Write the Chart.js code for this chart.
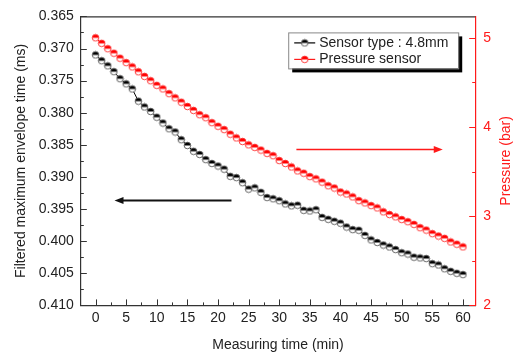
<!DOCTYPE html>
<html>
<head>
<meta charset="utf-8">
<script src="https://cdn.jsdelivr.net/npm/chart.js@4.4.1/dist/chart.umd.min.js"></script>
<style>
  html, body { margin: 0; padding: 0; background: #fff; }
  #wrap { width: 516px; height: 356px; }
</style>
</head>
<body>
<div id="wrap"><canvas id="chart" width="516" height="356"></canvas></div>
<script>
// measuring time (min)
const minutes = [
  0, 1, 2, 3, 4, 5, 6, 7, 8, 9, 10, 11, 12, 13, 14, 15, 16, 17, 18, 19, 20,
  21, 22, 23, 24, 25, 26, 27, 28, 29, 30, 31, 32, 33, 34, 35, 36, 37, 38, 39, 40,
  41, 42, 43, 44, 45, 46, 47, 48, 49, 50, 51, 52, 53, 54, 55, 56, 57, 58, 59, 60
];

// filtered max envelope time (ms), sensor 4.8mm
const envelopeTime = [
  0.3710, 0.3719, 0.3727, 0.3736, 0.3747, 0.3755, 0.3763, 0.3782, 0.3791, 0.3798, 0.3807,
  0.3816, 0.3825, 0.3830, 0.3842, 0.3851, 0.3860, 0.3865, 0.3873, 0.3879, 0.3883,
  0.3888, 0.3899, 0.3901, 0.3909, 0.3919, 0.3917, 0.3924, 0.3932, 0.3934, 0.3937,
  0.3942, 0.3945, 0.3944, 0.3952, 0.3953, 0.3951, 0.3963, 0.3966, 0.3969, 0.3972,
  0.3978, 0.3982, 0.3983, 0.3991, 0.3998, 0.4002, 0.4006, 0.4009, 0.4013, 0.4018,
  0.4020, 0.4025, 0.4026, 0.4027, 0.4035, 0.4037, 0.4043, 0.4047, 0.4050, 0.4052
];

// pressure (bar)
const pressure = [
  5.000, 4.938, 4.878, 4.827, 4.771, 4.722, 4.674, 4.619, 4.567, 4.519, 4.467,
  4.427, 4.374, 4.327, 4.278, 4.230, 4.186, 4.138, 4.104, 4.049, 4.008,
  3.971, 3.919, 3.878, 3.838, 3.800, 3.771, 3.741, 3.704, 3.678, 3.624,
  3.591, 3.552, 3.508, 3.482, 3.444, 3.419, 3.382, 3.341, 3.316, 3.271,
  3.249, 3.216, 3.174, 3.149, 3.119, 3.093, 3.049, 3.019, 2.993, 2.963,
  2.938, 2.908, 2.871, 2.844, 2.804, 2.778, 2.752, 2.711, 2.686, 2.656
];

const seriesLabels = ['Sensor type : 4.8mm', 'Pressure sensor'];

const xTicks = [0, 5, 10, 15, 20, 25, 30, 35, 40, 45, 50, 55, 60];
const xMinor = [2.5, 7.5, 12.5, 17.5, 22.5, 27.5, 32.5, 37.5, 42.5, 47.5, 52.5, 57.5];
const yTicks = [0.365, 0.370, 0.375, 0.380, 0.385, 0.390, 0.395, 0.400, 0.405, 0.410];
const yMinor = [0.3675, 0.3725, 0.3775, 0.3825, 0.3875, 0.3925, 0.3975, 0.4025, 0.4075];
const pTicks = [2, 3, 4, 5];
const pMinor = [2.5, 3.5, 4.5];

// arrows pointing at each axis (data units)
const blackArrow = { from: 22.2, to: 3.1, y: 0.3936 };
const redArrow = { from: 32.8, to: 56.7, y: 3.752 };

const FONT = '"Liberation Sans", Arial, sans-serif';
const TXT = '#222';
const RED = '#ff1a1a';

function makeMarker(fill, edge) {
  const c = document.createElement('canvas');
  c.width = 9; c.height = 9;
  const g = c.getContext('2d');
  g.beginPath(); g.arc(4.5, 4.5, 3.3, 0, Math.PI * 2);
  g.fillStyle = '#fff'; g.fill();
  g.beginPath(); g.arc(4.5, 4.5, 3.3, Math.PI, Math.PI * 2);
  g.closePath(); g.fillStyle = fill; g.fill();
  g.beginPath(); g.arc(4.5, 4.5, 3.3, 0, Math.PI * 2);
  g.lineWidth = 0.9; g.strokeStyle = edge; g.stroke();
  return c;
}
const blackMark = makeMarker('#000', '#555');
const redMark = makeMarker('#ff0000', '#ff2a2a');

function drawArrow(ctx, x1, x2, y, color, w) {
  const dir = Math.sign(x2 - x1);
  ctx.save();
  ctx.strokeStyle = color; ctx.fillStyle = color; ctx.lineWidth = w;
  ctx.beginPath(); ctx.moveTo(x1, y); ctx.lineTo(x2 - dir * 8, y); ctx.stroke();
  ctx.beginPath(); ctx.moveTo(x2, y); ctx.lineTo(x2 - dir * 9, y - 3.5);
  ctx.lineTo(x2 - dir * 9, y + 3.5); ctx.closePath(); ctx.fill();
  ctx.restore();
}

const extras = {
  id: 'extras',
  afterDraw(chart) {
    const { ctx, chartArea: a, scales } = chart;
    const { x, y, y1 } = scales;
    ctx.save();
    // top frame line
    ctx.strokeStyle = '#333'; ctx.lineWidth = 1.2;
    ctx.beginPath(); ctx.moveTo(a.left, a.top + 0.5); ctx.lineTo(a.right, a.top + 0.5); ctx.stroke();

    // inward tick marks
    ctx.lineWidth = 1;
    ctx.strokeStyle = '#333';
    const tick = (x1, y1_, x2, y2) => { ctx.beginPath(); ctx.moveTo(x1, y1_); ctx.lineTo(x2, y2); ctx.stroke(); };
    xTicks.forEach(v => { const px = Math.round(x.getPixelForValue(v)) + 0.5; tick(px, a.bottom, px, a.bottom - 6); });
    xMinor.forEach(v => { const px = Math.round(x.getPixelForValue(v)) + 0.5; tick(px, a.bottom, px, a.bottom - 3); });
    yTicks.forEach(v => { const py = Math.round(y.getPixelForValue(v)) + 0.5; tick(a.left, py, a.left + 6, py); });
    yMinor.forEach(v => { const py = Math.round(y.getPixelForValue(v)) + 0.5; tick(a.left, py, a.left + 3, py); });
    ctx.strokeStyle = RED;
    pTicks.forEach(v => { const py = Math.round(y1.getPixelForValue(v)) + 0.5; tick(a.right, py, a.right - 6, py); });
    pMinor.forEach(v => { const py = Math.round(y1.getPixelForValue(v)) + 0.5; tick(a.right, py, a.right - 3, py); });

    // right axis title, reading bottom to top
    ctx.fillStyle = RED;
    ctx.font = '14px ' + FONT;
    ctx.textAlign = 'center'; ctx.textBaseline = 'middle';
    ctx.translate(506, (a.top + a.bottom) / 2);
    ctx.rotate(-Math.PI / 2);
    ctx.fillText('Pressure (bar)', 0, 0);
    ctx.restore();

    // arrows
    drawArrow(ctx, x.getPixelForValue(blackArrow.from), x.getPixelForValue(blackArrow.to),
      Math.round(y.getPixelForValue(blackArrow.y)) + 0.5, '#111', 2);
    drawArrow(ctx, x.getPixelForValue(redArrow.from), x.getPixelForValue(redArrow.to),
      Math.round(y1.getPixelForValue(redArrow.y)) + 0.5, RED, 1.6);

    // legend box with drop shadow
    const bx = a.right - 187, by = a.top + 16, bw = 170, bh = 36;
    ctx.save();
    ctx.fillStyle = '#000';
    ctx.fillRect(bx + 4, by + 4, bw, bh);
    ctx.fillStyle = '#fff';
    ctx.fillRect(bx, by, bw, bh);
    ctx.strokeStyle = '#888'; ctx.lineWidth = 1;
    ctx.strokeRect(bx + 0.5, by + 0.5, bw, bh);
    const rows = [
      { c: '#000', m: blackMark },
      { c: RED, m: redMark }
    ];
    ctx.font = '14px ' + FONT;
    ctx.textBaseline = 'middle'; ctx.textAlign = 'left';
    rows.forEach((r, i) => {
      const ry = by + 10.5 + i * 16.5;
      ctx.strokeStyle = r.c; ctx.lineWidth = 1.2;
      ctx.beginPath(); ctx.moveTo(bx + 6, ry); ctx.lineTo(bx + 27, ry); ctx.stroke();
      ctx.drawImage(r.m, bx + 16.5 - 4.5, ry - 4.5);
      ctx.fillStyle = TXT;
      ctx.fillText(chart.data.datasets[i].label, bx + 31, ry);
    });
    ctx.restore();
  }
};

new Chart(document.getElementById('chart'), {
  type: 'line',
  data: {
    labels: minutes,
    datasets: [
      {
        label: seriesLabels[0],
        data: minutes.map((m, i) => ({ x: m, y: envelopeTime[i] })),
        yAxisID: 'y',
        borderColor: '#000',
        borderWidth: 1,
        pointStyle: blackMark,
        pointRadius: 4,
        tension: 0
      },
      {
        label: seriesLabels[1],
        data: minutes.map((m, i) => ({ x: m, y: pressure[i] })),
        yAxisID: 'y1',
        borderColor: '#ff0000',
        borderWidth: 1,
        pointStyle: redMark,
        pointRadius: 4,
        tension: 0
      }
    ]
  },
  options: {
    responsive: false,
    animation: false,
    events: [],
    layout: { padding: { top: 14, left: 13, right: 17, bottom: 0 } },
    plugins: { legend: { display: false }, tooltip: { enabled: false } },
    scales: {
      x: {
        type: 'linear',
        min: -2.4,
        max: 62,
        afterBuildTicks: s => { s.ticks = xTicks.map(v => ({ value: v })); },
        grid: { display: false, drawTicks: false },
        border: { display: true, color: '#333', width: 1.2 },
        ticks: { color: TXT, font: { family: FONT, size: 14 }, padding: 4, maxRotation: 0 },
        title: {
          display: true, text: 'Measuring time (min)', color: TXT,
          font: { family: FONT, size: 14 }, padding: { top: 7, bottom: 2 }
        }
      },
      y: {
        position: 'left',
        reverse: true,
        min: 0.365,
        max: 0.410,
        afterBuildTicks: s => { s.ticks = yTicks.map(v => ({ value: v })); },
        grid: { display: false, drawTicks: false },
        border: { display: true, color: '#333', width: 1.2 },
        ticks: { color: TXT, font: { family: FONT, size: 14 }, padding: 7, callback: v => v.toFixed(3) },
        title: {
          display: true, text: 'Filtered maximum envelope time (ms)', color: TXT,
          font: { family: FONT, size: 14 }, padding: { top: 0, bottom: 2 }
        }
      },
      y1: {
        position: 'right',
        min: 2,
        max: 5.24,
        afterBuildTicks: s => { s.ticks = pTicks.map(v => ({ value: v })); },
        grid: { display: false, drawTicks: false },
        border: { display: true, color: RED, width: 1.2 },
        ticks: { color: RED, font: { family: FONT, size: 14 }, padding: 8 }
      }
    }
  },
  plugins: [extras]
});
</script>
</body>
</html>
